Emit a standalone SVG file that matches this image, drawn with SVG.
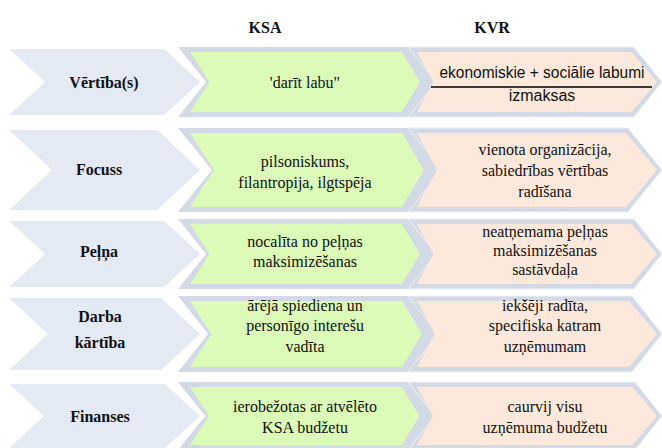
<svg xmlns="http://www.w3.org/2000/svg" width="662" height="448" viewBox="0 0 662 448">
<style>
.lbl{fill:#e4eaf4;stroke:#ffffff;stroke-width:4}
.gout{fill:#d3dae6}
.gin{fill:#dcfab8}
.pout{fill:#d3dae6;stroke:#eef1f6;stroke-width:1}
.pin{fill:#fde9dc}
.celltxt{font-size:16px;fill:#111;text-anchor:middle}
.boldtxt{font-weight:bold}
</style>
<rect width="662" height="448" fill="#ffffff"/>
<g id="header-ksa"><text class="celltxt boldtxt" font-family="Liberation Serif" x="265" y="33">KSA</text></g>
<g id="header-kvr"><text class="celltxt boldtxt" font-family="Liberation Serif" x="492" y="33">KVR</text></g>

<g id="ksa-vertiba">
<polygon class="gout" points="178,47 408,47 436,82 408,117 178,117 206,82"/>
<polygon class="gin" points="190,52 402,52 420,82 402,112 190,112 209.5,82"/>
<text class="celltxt" font-family="Liberation Serif" x="305" y="88">'darīt labu"</text>
</g>
<g id="kvr-vertiba">
<polygon class="pout" points="408,47 634,47 662,82 634,117 408,117 436,82"/>
<polygon class="pin" points="417,52 631.5,52 657,82 631.5,112 417,112 433.5,82"/>
<text class="celltxt" font-family="Liberation Sans" x="542" y="78" textLength="205" lengthAdjust="spacingAndGlyphs">ekonomiskie + sociālie labumi</text>
<line x1="431" y1="87" x2="652" y2="87" stroke="#000" stroke-width="1.6"/>
<text class="celltxt" font-family="Liberation Sans" x="542" y="101">izmaksas</text>
</g>
<g id="lbl-vertiba">
<polygon class="lbl" points="4,47 165,47 203,82 165,117 4,117 42,82"/>
<text class="celltxt boldtxt" font-family="Liberation Serif" x="104" y="88">Vērtība(s)</text>
</g>

<g id="ksa-focuss">
<polygon class="gout" points="178,128 408,128 442,170 408,212 178,212 212,170"/>
<polygon class="gin" points="190,133 402,133 424,170 402,207 190,207 214,170"/>
<text class="celltxt" font-family="Liberation Serif" x="305" y="167">pilsoniskums,</text>
<text class="celltxt" font-family="Liberation Serif" x="305" y="188">filantropija, ilgtspēja</text>
</g>
<g id="kvr-focuss">
<polygon class="pout" points="408,128 628,128 662,170 628,212 408,212 442,170"/>
<polygon class="pin" points="417,133 626,133 657,170 626,207 417,207 437,170"/>
<text class="celltxt" font-family="Liberation Serif" x="545" y="155">vienota organizācija,</text>
<text class="celltxt" font-family="Liberation Serif" x="545" y="176">sabiedrības vērtības</text>
<text class="celltxt" font-family="Liberation Serif" x="545" y="197">radīšana</text>
</g>
<g id="lbl-focuss">
<polygon class="lbl" points="4,128 158,128 203,170 158,212 4,212 49,170"/>
<text class="celltxt boldtxt" font-family="Liberation Serif" x="99" y="175">Focuss</text>
</g>

<g id="ksa-pelna">
<polygon class="gout" points="178,219 408,219 436,254 408,289 178,289 206,254"/>
<polygon class="gin" points="190,224 402,224 420,254 402,284 190,284 209.5,254"/>
<text class="celltxt" font-family="Liberation Serif" x="305" y="247">nocalīta no peļņas</text>
<text class="celltxt" font-family="Liberation Serif" x="305" y="267">maksimizēšanas</text>
</g>
<g id="kvr-pelna">
<polygon class="pout" points="408,219 634,219 662,254 634,289 408,289 436,254"/>
<polygon class="pin" points="417,224 631.5,224 657,254 631.5,284 417,284 433.5,254"/>
<text class="celltxt" font-family="Liberation Serif" x="545" y="237">neatņemama peļņas</text>
<text class="celltxt" font-family="Liberation Serif" x="545" y="256">maksimizēšanas</text>
<text class="celltxt" font-family="Liberation Serif" x="545" y="275">sastāvdaļa</text>
</g>
<g id="lbl-pelna">
<polygon class="lbl" points="4,219 165,219 203,254 165,289 4,289 42,254"/>
<text class="celltxt boldtxt" font-family="Liberation Serif" x="99" y="257">Peļņa</text>
</g>

<g id="ksa-darba">
<polygon class="gout" points="178,296 408,296 438,334 408,372 178,372 208,334"/>
<polygon class="gin" points="190,301 402,301 422,334 402,367 190,367 211.5,334"/>
<text class="celltxt" font-family="Liberation Serif" x="305" y="311">ārējā spiediena un</text>
<text class="celltxt" font-family="Liberation Serif" x="305" y="331">personīgo interešu</text>
<text class="celltxt" font-family="Liberation Serif" x="305" y="352">vadīta</text>
</g>
<g id="kvr-darba">
<polygon class="pout" points="408,296 632,296 662,334 632,372 408,372 438,334"/>
<polygon class="pin" points="417,301 629,301 657,334 629,367 417,367 435,334"/>
<text class="celltxt" font-family="Liberation Serif" x="545" y="311">iekšēji radīta,</text>
<text class="celltxt" font-family="Liberation Serif" x="545" y="331">specifiska katram</text>
<text class="celltxt" font-family="Liberation Serif" x="545" y="352">uzņēmumam</text>
</g>
<g id="lbl-darba">
<polygon class="lbl" points="4,296 162,296 203,334 162,372 4,372 45,334"/>
<text class="celltxt boldtxt" font-family="Liberation Serif" x="100" y="322">Darba</text>
<text class="celltxt boldtxt" font-family="Liberation Serif" x="100" y="348">kārtība</text>
</g>

<g id="ksa-finanses">
<polygon class="gout" points="178,382 408,382 435,416 408,450 178,450 205,416"/>
<polygon class="gin" points="190,387 402,387 419.5,416 402,445 190,445 209,416"/>
<text class="celltxt" font-family="Liberation Serif" x="305" y="412">ierobežotas ar atvēlēto</text>
<text class="celltxt" font-family="Liberation Serif" x="305" y="433">KSA budžetu</text>
</g>
<g id="kvr-finanses">
<polygon class="pout" points="408,382 635,382 662,416 635,450 408,450 435,416"/>
<polygon class="pin" points="417,387 632.5,387 657,416 632.5,445 417,445 433,416"/>
<text class="celltxt" font-family="Liberation Serif" x="545" y="412">caurvij visu</text>
<text class="celltxt" font-family="Liberation Serif" x="545" y="433">uzņēmuma budžetu</text>
</g>
<g id="lbl-finanses">
<polygon class="lbl" points="4,382 166,382 203,416 166,450 4,450 41,416"/>
<text class="celltxt boldtxt" font-family="Liberation Serif" x="100" y="422">Finanses</text>
</g>
</svg>
